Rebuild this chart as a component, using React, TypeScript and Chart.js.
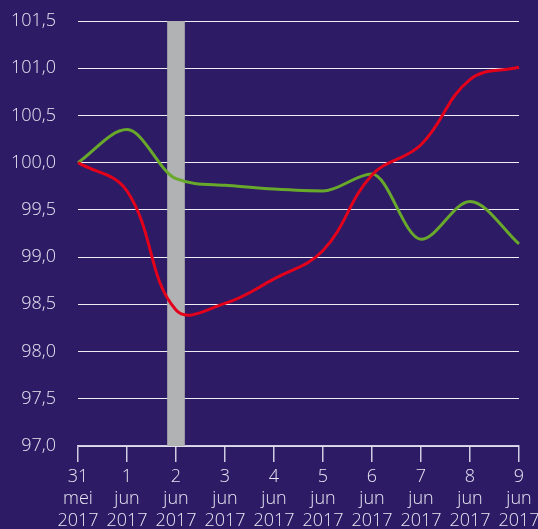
import React, { useEffect, useRef } from "react";
import { Chart, registerables } from "chart.js";

Chart.register(...registerables);

const dayLabels: string[][] = [
  ["31", "mei", "2017"],
  ["1", "jun", "2017"],
  ["2", "jun", "2017"],
  ["3", "jun", "2017"],
  ["4", "jun", "2017"],
  ["5", "jun", "2017"],
  ["6", "jun", "2017"],
  ["7", "jun", "2017"],
  ["8", "jun", "2017"],
  ["9", "jun", "2017"],
];

const greenSeries: number[] = [100.0, 100.35, 99.83, 99.76, 99.72, 99.7, 99.88, 99.19, 99.59, 99.14];
const redSeries: number[] = [100.0, 99.7, 98.44, 98.51, 98.77, 99.07, 99.87, 100.19, 100.88, 101.01];
const markerIndex = 2;
const yMin = 97.0;
const yMax = 101.5;
const yStep = 0.5;

const BG = "#2d1b66";
const TEXT = "#e8e6f2";
const FONT = "'Open Sans', sans-serif";

function zeroPad(scale: any) {
  scale.paddingTop = 0;
  scale.paddingBottom = 0;
  scale.paddingLeft = 0;
  scale.paddingRight = 0;
}

export default function App() {
  const ref = useRef<HTMLCanvasElement | null>(null);

  useEffect(() => {
    if (!ref.current) return;
    const barData = dayLabels.map((_, i) => (i === markerIndex ? [yMin, yMax] : null));
    const bgPlugin = {
      id: "bgfill",
      beforeDraw(chart: any) {
        const ctx = chart.ctx;
        ctx.save();
        ctx.fillStyle = BG;
        ctx.fillRect(0, 0, chart.width, chart.height);
        ctx.restore();
      },
    };
    const chart = new Chart(ref.current, {
      type: "line",
      data: {
        labels: dayLabels,
        datasets: [
          {
            type: "bar",
            data: barData as any,
            backgroundColor: "#b1b2b4",
            borderWidth: 0,
            barThickness: 17,
            order: 3,
          } as any,
          {
            data: greenSeries,
            borderColor: "#68a82b",
            borderWidth: 3,
            pointRadius: 0,
            cubicInterpolationMode: "monotone",
            fill: false,
            order: 2,
          },
          {
            data: redSeries,
            borderColor: "#e3001b",
            borderWidth: 3,
            pointRadius: 0,
            tension: 0.4,
            fill: false,
            order: 1,
          },
        ],
      },
      options: {
        animation: false,
        responsive: false,
        layout: { padding: { left: 8, top: 21, right: 19, bottom: 0 } },
        plugins: { legend: { display: false }, tooltip: { enabled: false } },
        scales: {
          x: {
            type: "category",
            offset: false,
            afterFit(scale: any) {
              scale.height = 83;
              zeroPad(scale);
            },
            grid: {
              offset: false,
              drawOnChartArea: false,
              drawTicks: true,
              tickLength: 16,
              color: "#cfcbe0",
              lineWidth: 1.5,
            },
            border: { display: true, color: "#cfcbe0", width: 1.5 },
            ticks: {
              color: TEXT,
              font: { family: FONT, size: 18, weight: 300, lineHeight: "22px" },
              padding: 4,
              maxRotation: 0,
              autoSkip: false,
            },
          },
          y: {
            min: yMin,
            max: yMax,
            afterFit(scale: any) {
              scale.width = 70;
              zeroPad(scale);
            },
            ticks: {
              stepSize: yStep,
              color: TEXT,
              padding: 22,
              font: { family: FONT, size: 18, weight: 300 },
              callback: (v: any) => Number(v).toFixed(1).replace(".", ","),
            },
            grid: {
              drawTicks: false,
              color: "rgba(255,255,255,0.92)",
              lineWidth: 1,
            },
            border: { display: false },
          },
        },
      },
      plugins: [bgPlugin],
    });
    return () => chart.destroy();
  }, []);

  return (
    <div style={{ position: "fixed", left: 0, top: 0, width: 538, height: 529, background: BG }}>
      <canvas ref={ref} width={538} height={529} style={{ display: "block" }} />
    </div>
  );
}
